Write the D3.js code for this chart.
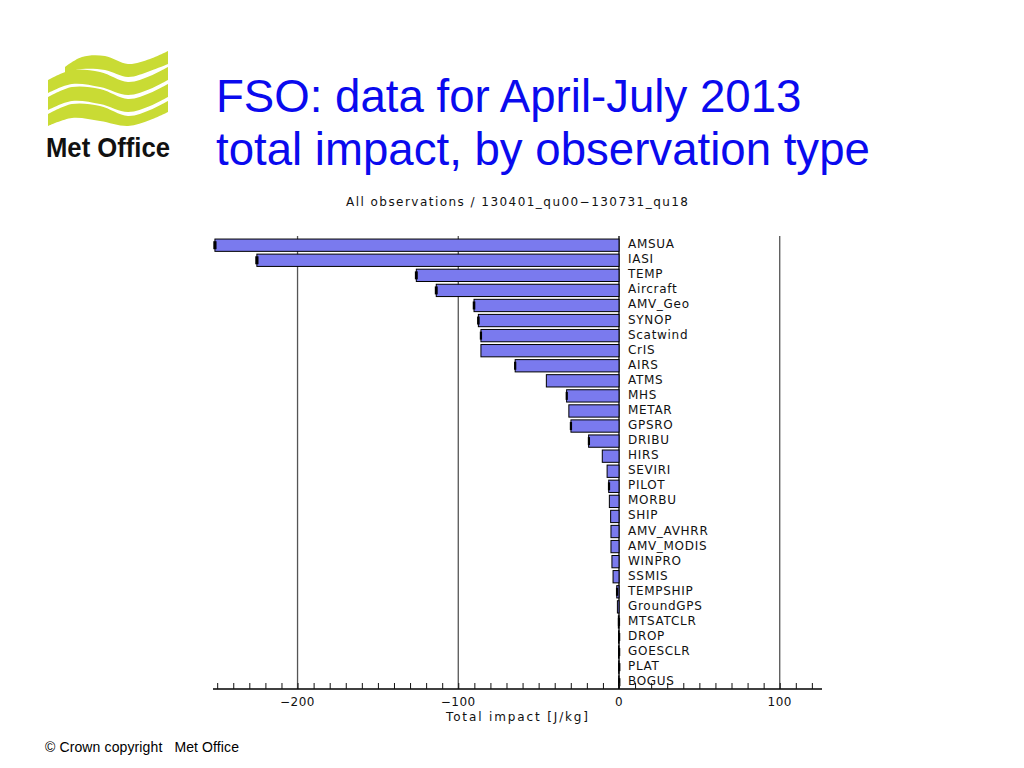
<!DOCTYPE html>
<html>
<head>
<meta charset="utf-8">
<script src="https://cdnjs.cloudflare.com/ajax/libs/d3/7.8.5/d3.min.js"></script>
<style>
body { margin:0; background:#fff; }
</style>
</head>
<body>
<svg></svg>
<script>
var screen = {width:1024,height:768}

// data (J/kg)
var obsTypes = ["AMSUA","IASI","TEMP","Aircraft","AMV_Geo","SYNOP","Scatwind","CrIS","AIRS","ATMS",
    "MHS","METAR","GPSRO","DRIBU","HIRS","SEVIRI","PILOT","MORBU","SHIP","AMV_AVHRR",
    "AMV_MODIS","WINPRO","SSMIS","TEMPSHIP","GroundGPS","MTSATCLR","DROP","GOESCLR","PLAT","BOGUS"]
var impacts = [-251.4,-225.3,-126.1,-113.7,-90.2,-87.5,-85.9,-85.9,-64.6,-45.2,
    -32.6,-31.2,-29.9,-18.9,-10.4,-7.4,-6.4,-6.0,-5.2,-5.0,
    -5.0,-4.4,-3.7,-1.4,-1.0,-0.4,-0.3,-0.3,-0.2,-0.2]
var spread = [1.0,1.0,0.9,0.9,0.8,0.8,0.7,0,0.7,0,
    0.6,0,0.7,0.5,0,0,0.5,0,0,0,
    0,0,0,0.5,0,0.3,0.3,0.3,0.3,0.3]
var majorTicks = [-200,-100,0,100]
var minorTicks = d3.range(-250,121,10)

var svg = d3.select("svg")
    .attr("width",screen.width)
    .attr("height",screen.height)

// Met Office logo
var waves = [
    {top:[[65,67],[82,57],[105,56],[128,64],[150,59],[168,51]], bottom:[[168,64],[150,71],[128,77],[105,70],[82,69],[65,73]]},
    {top:[[48,80],[72,70],[100,72],[128,82],[150,76],[168,67]], bottom:[[168,80],[150,89],[128,95],[100,87],[72,84],[48,93]]},
    {top:[[48,97],[72,87],[100,89],[128,99],[150,93],[168,84]], bottom:[[168,97],[150,106],[128,112],[100,104],[72,101],[48,110]]},
    {top:[[48,114],[72,104],[100,106],[128,116],[150,110],[168,101]], bottom:[[168,112],[150,120],[128,126],[100,121],[72,118],[48,126]]}
]
var edge = d3.line().curve(d3.curveCatmullRom)
svg.append("g").attr("id","logo")
    .selectAll("path")
    .data(waves)
    .enter()
    .append("path")
    .attr("fill","#c9db34")
    .attr("d",function(w){ return edge(w.top) + "L" + edge(w.bottom).slice(1) + "Z" })

svg.append("text")
    .attr("x",46).attr("y",157)
    .attr("font-family","Liberation Sans, Arial, sans-serif")
    .attr("font-weight","bold")
    .attr("font-size",27)
    .attr("textLength",124).attr("lengthAdjust","spacingAndGlyphs")
    .attr("fill","#111")
    .text("Met Office")

// slide title
var titleLines = ["FSO: data for April-July 2013","total impact, by observation type"]
svg.selectAll(".title")
    .data(titleLines)
    .enter()
    .append("text")
    .attr("class","title")
    .attr("x",216)
    .attr("y",function(d,i){ return 112 + i*53 })
    .attr("font-family","Liberation Sans, Arial, sans-serif")
    .attr("font-size",45.6)
    .attr("fill","#0a0aee")
    .text(function(d){ return d })

svg.append("text")
    .attr("x",45).attr("y",752)
    .attr("font-family","Liberation Sans, Arial, sans-serif")
    .attr("font-size",14)
    .attr("textLength",194).attr("lengthAdjust","spacing")
    .attr("fill","#000")
    .attr("xml:space","preserve")
    .text("\u00a9 Crown copyright   Met Office")

// chart
var chartFont = "DejaVu Sans, sans-serif"
var xScale = d3.scaleLinear()
    .domain([-252.6,126.3])
    .range([213,822])
var yScale = d3.scalePoint()
    .domain(obsTypes)
    .range([245.2,682.2])
var barH = 12.3
var axisY = 689

svg.append("text")
    .attr("x",517).attr("y",206)
    .attr("text-anchor","middle")
    .attr("font-family",chartFont)
    .attr("font-size",12)
    .attr("textLength",342).attr("lengthAdjust","spacing")
    .attr("fill","#111")
    .text("All observations / 130401_qu00\u2212130731_qu18")

// grid lines
svg.append("g")
    .selectAll("line")
    .data(majorTicks)
    .enter()
    .append("line")
    .attr("x1",function(d){ return xScale(d) })
    .attr("x2",function(d){ return xScale(d) })
    .attr("y1",236)
    .attr("y2",axisY)
    .attr("stroke",function(d){ return d==0 ? "#000" : "#555" })
    .attr("stroke-width",1.3)

// bars
var bars = svg.append("g").attr("id","bars")
bars.selectAll("rect")
    .data(obsTypes)
    .enter()
    .append("rect")
    .attr("x",function(d,i){ return xScale(impacts[i]) })
    .attr("y",function(d){ return yScale(d) - barH/2 })
    .attr("width",function(d,i){ return xScale(0) - xScale(impacts[i]) })
    .attr("height",barH)
    .attr("fill","#7a7aee")
    .attr("stroke","#000")
    .attr("stroke-width",1)

// spread markers at bar ends
bars.selectAll(".err")
    .data(obsTypes.filter(function(d,i){ return spread[i] > 0 }))
    .enter()
    .append("rect")
    .attr("class","err")
    .attr("x",function(d){ var i = obsTypes.indexOf(d); return xScale(impacts[i] - spread[i]) })
    .attr("y",function(d){ return yScale(d) - 4 })
    .attr("width",function(d){ var i = obsTypes.indexOf(d); return Math.max(2.2, xScale(impacts[i] + spread[i]) - xScale(impacts[i] - spread[i])) })
    .attr("height",8)
    .attr("fill","#000")

// category labels
svg.append("g")
    .selectAll("text")
    .data(obsTypes)
    .enter()
    .append("text")
    .attr("x",628)
    .attr("y",function(d){ return yScale(d) + 3 })
    .attr("font-family",chartFont)
    .attr("font-size",12)
    .attr("letter-spacing",0.7)
    .attr("fill","#111")
    .text(function(d){ return d })

// x axis: ticks pointing up
var xAxis = d3.axisTop(xScale)
    .tickValues(minorTicks)
    .tickSize(6)
    .tickFormat("")
svg.append("g")
    .attr("id","xAxis")
    .attr("transform","translate(0,"+axisY+")")
    .call(xAxis)
    .call(function(g){ g.select(".domain").attr("d","M"+xScale.range()[0]+",0H"+xScale.range()[1]).attr("stroke-width",1.3) })
    .call(function(g){ g.selectAll(".tick line").attr("stroke","#111") })

svg.append("g")
    .selectAll("text")
    .data(majorTicks)
    .enter()
    .append("text")
    .attr("x",function(d){ return xScale(d) })
    .attr("y",706)
    .attr("text-anchor","middle")
    .attr("font-family",chartFont)
    .attr("font-size",12)
    .attr("letter-spacing",0.5)
    .attr("fill","#111")
    .text(function(d){ return d < 0 ? "\u2212" + Math.abs(d) : d })

svg.append("text")
    .attr("x",517).attr("y",721)
    .attr("text-anchor","middle")
    .attr("font-family",chartFont)
    .attr("font-size",12)
    .attr("textLength",142).attr("lengthAdjust","spacing")
    .attr("fill","#111")
    .text("Total impact [J/kg]")
</script>
</body>
</html>
